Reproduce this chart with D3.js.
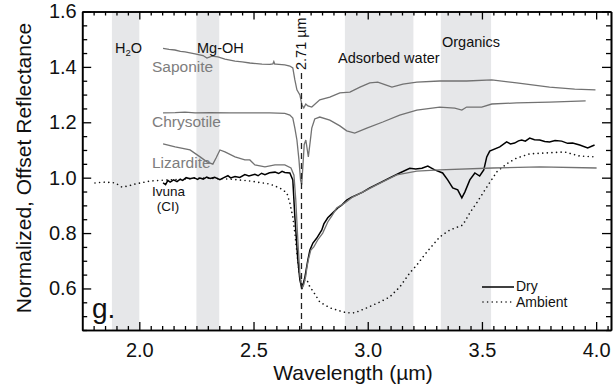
<!DOCTYPE html>
<html><head><meta charset="utf-8">
<script src="https://cdn.jsdelivr.net/npm/d3@7"></script>
<style>
body{margin:0;background:#fff}
svg{display:block}
text{font-family:"Liberation Sans",Arial,Helvetica,sans-serif}
</style>
</head><body>
<svg id="c" width="615" height="388"></svg>
<script>
// ---------- data ----------
const xMajorTicks = [2.0, 2.5, 3.0, 3.5, 4.0];
const yMajorTicks = [0.6, 0.8, 1.0, 1.2, 1.4, 1.6];
const bandStart = [1.88, 2.25, 2.90, 3.32];
const bandEnd   = [2.00, 2.35, 3.20, 3.54];
const featureLine = 2.71;

// [wavelength (µm), normalized offset reflectance]
const saponite = [[2.104,1.467],[2.13,1.463],[2.156,1.461],[2.18,1.456],[2.20,1.454],[2.244,1.447],[2.279,1.441],[2.296,1.432],[2.318,1.439],[2.344,1.436],[2.375,1.428],[2.419,1.421],[2.45,1.418],[2.484,1.414],[2.537,1.410],[2.572,1.409],[2.585,1.411],[2.589,1.419],[2.593,1.410],[2.598,1.410],[2.637,1.407],[2.659,1.403],[2.672,1.396],[2.681,1.353],[2.690,1.317],[2.703,1.299],[2.712,1.262],[2.72,1.252],[2.729,1.266],[2.738,1.259],[2.755,1.255],[2.79,1.281],[2.834,1.291],[2.878,1.306],[2.922,1.309],[2.966,1.327],[3.009,1.342],[3.044,1.345],[3.075,1.336],[3.106,1.327],[3.154,1.338],[3.215,1.345],[3.315,1.349],[3.433,1.349],[3.543,1.353],[3.652,1.342],[3.796,1.327],[3.906,1.320],[3.997,1.317]];

const chrysotile = [[2.104,1.234],[2.157,1.235],[2.20,1.237],[2.244,1.234],[2.31,1.235],[2.397,1.234],[2.484,1.234],[2.572,1.234],[2.637,1.232],[2.659,1.226],[2.672,1.215],[2.681,1.179],[2.690,1.136],[2.699,1.064],[2.706,0.990],[2.711,0.975],[2.716,1.040],[2.722,1.120],[2.729,1.136],[2.740,1.075],[2.749,1.136],[2.755,1.179],[2.768,1.212],[2.79,1.219],[2.834,1.208],[2.878,1.187],[2.908,1.169],[2.943,1.161],[2.996,1.179],[3.066,1.201],[3.14,1.226],[3.215,1.244],[3.315,1.255],[3.381,1.251],[3.412,1.244],[3.433,1.255],[3.499,1.255],[3.543,1.266],[3.652,1.270],[3.796,1.273],[3.954,1.277]];

const lizardite = [[2.104,1.122],[2.157,1.111],[2.222,1.100],[2.266,1.075],[2.296,1.057],[2.322,1.049],[2.336,1.071],[2.353,1.100],[2.375,1.093],[2.419,1.075],[2.462,1.064],[2.484,1.064],[2.506,1.046],[2.55,1.039],[2.594,1.046],[2.637,1.046],[2.664,1.035],[2.677,1.009],[2.685,0.920],[2.694,0.775],[2.703,0.649],[2.712,0.602],[2.72,0.613],[2.729,0.645],[2.734,0.678],[2.742,0.710],[2.751,0.739],[2.764,0.750],[2.781,0.775],[2.803,0.800],[2.825,0.840],[2.843,0.862],[2.864,0.891],[2.90,0.909],[2.934,0.930],[2.978,0.948],[3.039,0.974],[3.127,1.010],[3.215,1.024],[3.315,1.028],[3.547,1.035],[3.753,1.039],[4.002,1.035]];

const ivunaDry = [[2.104,0.981],[2.115,0.975],[2.125,0.990],[2.135,0.984],[2.15,0.992],[2.165,0.986],[2.178,0.994],[2.19,0.990],[2.205,1.000],[2.222,0.996],[2.24,1.000],[2.255,0.994],[2.266,0.999],[2.28,0.995],[2.295,1.002],[2.31,0.997],[2.33,1.001],[2.353,0.993],[2.37,1.000],[2.388,1.007],[2.40,0.999],[2.419,1.004],[2.44,1.001],[2.462,1.011],[2.48,1.006],[2.506,1.012],[2.52,1.007],[2.535,1.016],[2.55,1.011],[2.57,1.018],[2.594,1.020],[2.61,1.015],[2.625,1.023],[2.637,1.019],[2.659,1.017],[2.672,0.992],[2.681,0.858],[2.694,0.703],[2.703,0.631],[2.712,0.598],[2.725,0.641],[2.738,0.703],[2.747,0.739],[2.760,0.764],[2.777,0.782],[2.799,0.811],[2.808,0.833],[2.825,0.855],[2.847,0.873],[2.869,0.891],[2.886,0.901],[2.908,0.919],[2.93,0.930],[2.952,0.938],[2.978,0.948],[3.009,0.963],[3.053,0.981],[3.096,0.999],[3.14,1.017],[3.184,1.034],[3.21,1.031],[3.237,1.034],[3.263,1.042],[3.293,1.028],[3.328,1.017],[3.35,0.992],[3.372,0.963],[3.394,0.956],[3.412,0.927],[3.425,0.948],[3.447,0.992],[3.469,1.017],[3.49,1.006],[3.508,1.028],[3.521,1.075],[3.534,1.096],[3.578,1.111],[3.608,1.129],[3.625,1.122],[3.643,1.125],[3.66,1.133],[3.674,1.136],[3.69,1.132],[3.709,1.143],[3.73,1.137],[3.753,1.136],[3.775,1.131],[3.796,1.129],[3.82,1.134],[3.849,1.132],[3.875,1.124],[3.897,1.125],[3.928,1.118],[3.963,1.107],[3.993,1.118]];

const ivunaAmbient = [[1.806,0.981],[1.85,0.984],[1.894,0.981],[1.924,0.966],[1.951,0.970],[1.981,0.977],[2.047,0.988],[2.134,0.992],[2.266,0.999],[2.397,0.995],[2.484,0.988],[2.572,0.977],[2.615,0.963],[2.646,0.945],[2.659,0.909],[2.672,0.858],[2.681,0.800],[2.694,0.696],[2.703,0.638],[2.712,0.613],[2.725,0.631],[2.734,0.631],[2.747,0.605],[2.760,0.591],[2.79,0.551],[2.834,0.530],[2.878,0.519],[2.908,0.512],[2.943,0.512],[2.996,0.530],[3.053,0.551],[3.096,0.569],[3.14,0.605],[3.184,0.656],[3.215,0.685],[3.259,0.732],[3.315,0.786],[3.359,0.811],[3.416,0.829],[3.447,0.873],[3.477,0.909],[3.521,0.966],[3.565,1.021],[3.608,1.050],[3.652,1.071],[3.709,1.086],[3.775,1.089],[3.862,1.093],[3.928,1.078],[3.993,1.075]];

// ---------- layout ----------
const svg = d3.select("#c");
const L = 82.2, R = 611, T = 11.5, B = 330;
const x = d3.scaleLinear().domain([1.75, 4.065]).range([L, R]);
const y = d3.scaleLinear().domain([0.45, 1.6]).range([B, T]);
const grayLine = "#727272", grayText = "#7d7d7d";

// bands
svg.append("g").selectAll("rect").data(bandStart).join("rect")
  .attr("x", (d) => x(d)).attr("width", (d, i) => x(bandEnd[i]) - x(d))
  .attr("y", T).attr("height", B - T).attr("fill", "#e6e7e9");

const line = d3.line().x(d => x(d[0])).y(d => y(d[1]));
const g = svg.append("g").attr("fill", "none");
g.append("path").datum(saponite).attr("d", line).attr("stroke", grayLine).attr("stroke-width", 1.3);
g.append("path").datum(chrysotile).attr("d", line).attr("stroke", grayLine).attr("stroke-width", 1.3);
g.append("path").datum(ivunaAmbient).attr("d", line).attr("stroke", "#111").attr("stroke-width", 1.6)
  .attr("stroke-linecap", "round").attr("stroke-dasharray", "0.01,4.6");
g.append("path").datum(ivunaDry).attr("d", line).attr("stroke", "#000").attr("stroke-width", 1.5);
g.append("path").datum(lizardite).attr("d", line).attr("stroke", grayLine).attr("stroke-width", 1.3);

// dashed 2.71 line
svg.append("line").attr("x1", x(featureLine)).attr("x2", x(featureLine))
  .attr("y1", 73).attr("y2", B).attr("stroke", "#222").attr("stroke-width", 1.3)
  .attr("stroke-dasharray", "6,4");
svg.append("text").attr("transform", `translate(${x(featureLine) + 5},70) rotate(-90)`)
  .attr("font-size", 14.5).attr("fill", "#111").text("2.71 µm");

// axes
const fmt = d3.format(".1f");
const xMinor = d3.range(36, 82).map(i => +(i * 0.05).toFixed(2)).filter(v => !xMajorTicks.includes(v));
const yMinor = d3.range(9, 33).map(i => +(i * 0.05).toFixed(2)).filter(v => !yMajorTicks.includes(v));

function style(sel) {
  sel.selectAll("path.domain").attr("stroke", "#000").attr("stroke-width", 1.6);
  sel.selectAll("line").attr("stroke", "#000").attr("stroke-width", 1.3);
  sel.selectAll("text").attr("font-family", '"Liberation Sans",Arial,sans-serif').attr("font-size", 20).attr("fill", "#111");
}
svg.append("g").attr("transform", `translate(0,${B})`)
  .call(d3.axisBottom(x).tickValues(xMajorTicks).tickSize(-8).tickSizeOuter(0).tickPadding(13).tickFormat(fmt)).call(style);
svg.append("g").attr("transform", `translate(0,${B})`)
  .call(d3.axisBottom(x).tickValues(xMinor).tickSize(-4).tickSizeOuter(0).tickFormat("")).call(style);
svg.append("g").attr("transform", `translate(0,${T})`)
  .call(d3.axisTop(x).tickValues(xMajorTicks).tickSize(-8).tickSizeOuter(0).tickFormat("")).call(style);
svg.append("g").attr("transform", `translate(0,${T})`)
  .call(d3.axisTop(x).tickValues(xMinor).tickSize(-4).tickSizeOuter(0).tickFormat("")).call(style);
svg.append("g").attr("transform", `translate(${L},0)`)
  .call(d3.axisLeft(y).tickValues(yMajorTicks).tickSize(-9).tickSizeOuter(0).tickPadding(5.5).tickFormat(fmt)).call(style);
svg.append("g").attr("transform", `translate(${L},0)`)
  .call(d3.axisLeft(y).tickValues(yMinor).tickSize(-5).tickSizeOuter(0).tickFormat("")).call(style);
svg.append("g").attr("transform", `translate(${R},0)`)
  .call(d3.axisRight(y).tickValues(yMajorTicks).tickSize(-9).tickSizeOuter(0).tickFormat("")).call(style);
svg.append("g").attr("transform", `translate(${R},0)`)
  .call(d3.axisRight(y).tickValues(yMinor).tickSize(-5).tickSizeOuter(0).tickFormat("")).call(style);

// titles
svg.append("text").attr("x", 353).attr("y", 380).attr("text-anchor", "middle")
  .attr("font-size", 21).attr("fill", "#111").text("Wavelength (µm)");
svg.append("text").attr("transform", "translate(31,168) rotate(-90)").attr("text-anchor", "middle")
  .attr("font-size", 21).attr("fill", "#111").text("Normalized, Offset Reflectance");

// annotations
const ann = svg.append("g").attr("font-size", 14.5).attr("fill", "#111");
const h2o = ann.append("text").attr("x", 115).attr("y", 53);
h2o.append("tspan").text("H");
h2o.append("tspan").attr("font-size", 9.5).attr("dy", 3).text("2");
h2o.append("tspan").attr("dy", -3).text("O");
ann.append("text").attr("x", 197).attr("y", 53).text("Mg-OH");
ann.append("text").attr("x", 338).attr("y", 63).text("Adsorbed water");
ann.append("text").attr("x", 442).attr("y", 47).text("Organics");

const lab = svg.append("g").attr("font-size", 15.5);
lab.append("text").attr("x", 152).attr("y", 72).attr("fill", grayText).text("Saponite");
lab.append("text").attr("x", 152).attr("y", 127).attr("fill", grayText).text("Chrysotile");
lab.append("text").attr("x", 152).attr("y", 168).attr("fill", grayText).text("Lizardite");
lab.append("text").attr("x", 152).attr("y", 195.5).attr("font-size", 13.5).attr("fill", "#111").text("Ivuna");
lab.append("text").attr("x", 168).attr("y", 211).attr("font-size", 13.5).attr("text-anchor", "middle").attr("fill", "#111").text("(CI)");

svg.append("text").attr("x", 92).attr("y", 318).attr("font-size", 28).attr("fill", "#111").text("g.");

// legend
const lg = svg.append("g");
lg.append("line").attr("x1", 482).attr("x2", 514).attr("y1", 287).attr("y2", 287).attr("stroke", "#000").attr("stroke-width", 1.5);
lg.append("line").attr("x1", 483).attr("x2", 514).attr("y1", 302).attr("y2", 302).attr("stroke", "#111").attr("stroke-width", 1.6)
  .attr("stroke-linecap", "round").attr("stroke-dasharray", "0.01,4.6");
lg.append("text").attr("x", 516).attr("y", 291).attr("font-size", 14).attr("fill", "#111").text("Dry");
lg.append("text").attr("x", 516).attr("y", 307).attr("font-size", 14).attr("fill", "#111").text("Ambient");
</script>
</body></html>
